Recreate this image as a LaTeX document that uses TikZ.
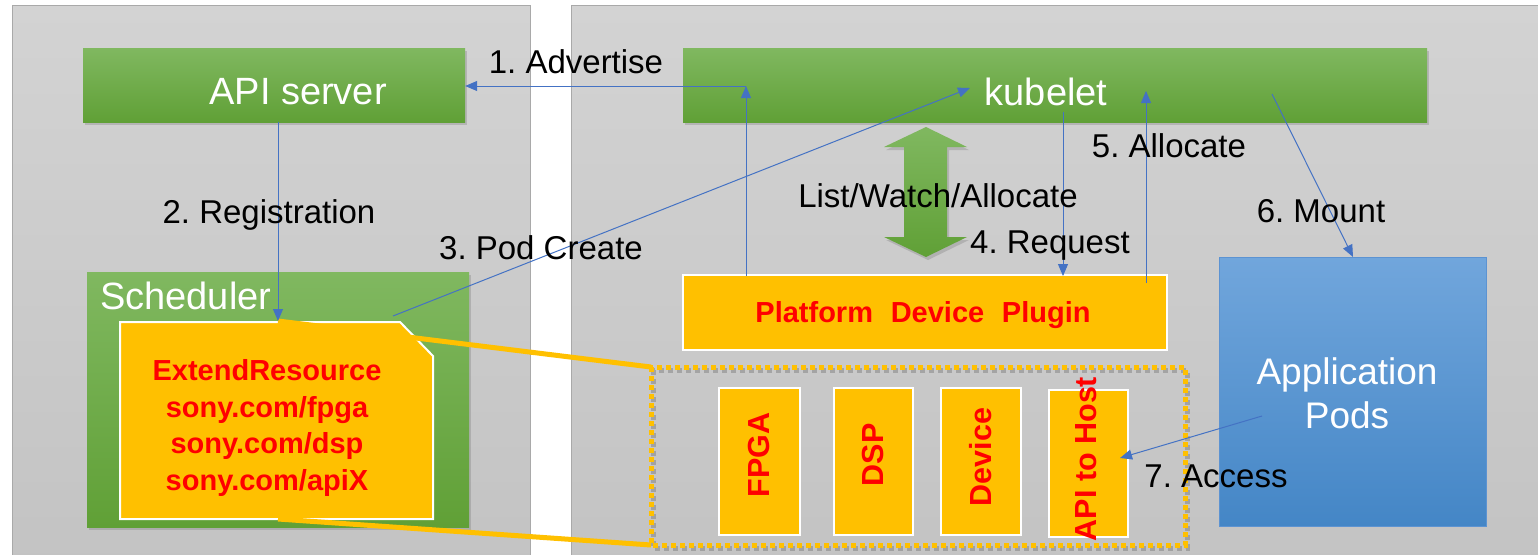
\documentclass[tikz,border=0pt]{standalone}
\usepackage{fontspec}
\setmainfont{Liberation Sans}
\usetikzlibrary{shadows,arrows.meta}
\frenchspacing

\definecolor{panelTop}{HTML}{D3D3D3}
\definecolor{panelBot}{HTML}{C3C3C3}
\definecolor{panelEdge}{HTML}{A9A9A9}
\definecolor{greenTop}{HTML}{80B860}
\definecolor{greenBot}{HTML}{60A036}
\definecolor{amber}{HTML}{FFC000}
\definecolor{linkBlue}{HTML}{4472C4}
\definecolor{podTop}{HTML}{71A6DC}
\definecolor{podBot}{HTML}{4486C6}
\definecolor{podEdge}{HTML}{5C93D2}

\tikzset{
  panel/.style={top color=panelTop, bottom color=panelBot, draw=panelEdge, line width=1pt},
  greenbox/.style={draw=none, top color=greenTop, bottom color=greenBot,
    drop shadow={shadow xshift=2pt, shadow yshift=-3pt, opacity=0.35}, inner sep=0pt},
  amberbox/.style={fill=amber, draw=white, line width=2pt, inner sep=0pt},
  boxtext/.style={text=white, font=\fontsize{38}{44}\selectfont, inner sep=0pt},
  steplabel/.style={text=black, font=\fontsize{33}{38}\selectfont, inner sep=0pt},
  redtext/.style={text=red, font=\bfseries\fontsize{29}{36.5}\selectfont, inner sep=0pt, align=center},
  devtext/.style={redtext, font=\bfseries\fontsize{30.5}{36}\selectfont, rotate=90},
  link/.style={draw=linkBlue, line width=1pt, -{Triangle[length=12pt,width=10pt]}},
  zoomline/.style={draw=amber, line width=5pt},
  dotframe/.style={line width=5pt, dash pattern=on 5pt off 4pt},
}

\begin{document}
\begin{tikzpicture}[x=1pt, y=-1pt]
\useasboundingbox (0,0) rectangle (1538,554);
\clip (0,0) rectangle (1538,554);
\fill[white] (0,0) rectangle (1538,554);

% two grey panels: control plane (left) and node (right)
\path[panel] (12,5) rectangle (530,570);
\path[panel] (571,5) rectangle (1560,570);

% control plane components
\node[greenbox, minimum width=382pt, minimum height=74pt] (api) at (274,85) {};
\node[boxtext] (apiText) at (298,92) {API server};

\node[greenbox, minimum width=382pt, minimum height=255pt] (sched) at (278,399.5) {};
\node[boxtext, anchor=west] (schedText) at (100,296) {Scheduler};

% extended resource card with a snipped corner
\filldraw[fill=amber, draw=white, line width=2pt]
  (120,322) -- (400,322) -- (433,356) -- (433,519) -- (120,519) -- cycle;
\coordinate (cardTop) at (278,321);
\node[redtext] (resList) at (267,428) {ExtendResource\\sony.com/fpga\\sony.com/dsp\\sony.com/apiX};

% node components
\node[greenbox, minimum width=744pt, minimum height=74pt] (kubelet) at (1055,85) {};
\node[boxtext] (kubeletText) at (1046,92) {kubelet};

\node[amberbox, minimum width=484pt, minimum height=75pt] (plugin) at (925,312.5) {};
\node[redtext] (pluginText) at (923,315) {Platform\,\, Device\,\, Plugin};

% list/watch/allocate double arrow
\path[top color=greenTop, bottom color=greenBot,
      drop shadow={shadow xshift=2pt, shadow yshift=-3pt, opacity=0.35}]
  (926,127) -- (967,147) -- (947,147) -- (947,237) -- (967,237) -- (926,257)
  -- (884,237) -- (904,237) -- (904,147) -- (884,147) -- cycle;

% device group (dotted frame with shadow)
\draw[dotframe, black!50, opacity=0.5] (653,370) rectangle (1187,548);
\draw[dotframe, amber] (651,367) rectangle (1185,545);
\coordinate (groupNW) at (651,367);
\coordinate (groupSW) at (651,545);

\node[amberbox, minimum width=81pt, minimum height=147pt] (fpga) at (759.5,461.5) {};
\node[amberbox, minimum width=79pt, minimum height=147pt] (dsp) at (873.5,461.5) {};
\node[amberbox, minimum width=80pt, minimum height=147pt] (device) at (981,461.5) {};
\node[amberbox, minimum width=79pt, minimum height=147pt] (apihost) at (1088.5,463.5) {};
\node[devtext] (fpgaText) at (759,455) {FPGA};
\node[devtext] (dspText) at (873,455) {DSP};
\node[devtext] (deviceText) at (981,457) {Device};
\node[devtext] (apihostText) at (1086,459) {API to Host};

% application pods
\node[draw=podEdge, line width=1pt, top color=podTop, bottom color=podBot,
      minimum width=267pt, minimum height=269pt, inner sep=0pt] (pods) at (1352.5,391.5) {};
\node[boxtext, align=center, font=\fontsize{37}{44}\selectfont] (podsText) at (1347,393) {Application\\Pods};

% callout from the card to the device group
\draw[zoomline] (cardTop) -- (groupNW);
\draw[zoomline] (278,519) -- (groupSW);

% workflow connectors
\coordinate (advTurn) at (746,86);
\coordinate (plugLeft) at (746,276);
\draw[link] (plugLeft) -- (advTurn);
\draw[link] (advTurn) -- (api.east |- advTurn);

\coordinate (apiBottom) at (278,122);
\draw[link] (apiBottom) -- (cardTop);

\coordinate (schedOut) at (393,316);
\coordinate (kubeIn) at (970,88);
\draw[link] (schedOut) -- (kubeIn);

\coordinate (kubeReq) at (1063,112);
\draw[link] (kubeReq) -- (1063,276);

\coordinate (plugAlloc) at (1146,283);
\draw[link] (plugAlloc) -- (1146,91);

\coordinate (kubeMount) at (1272,94);
\draw[link] (kubeMount) -- (1353,257);

\coordinate (podsAccess) at (1262,416);
\draw[link] (podsAccess) -- (1120,458);

% step labels
\node[steplabel] (l1) at (576,62) {1. Advertise};
\node[steplabel] (l2) at (269,215) {2. Registration};
\node[steplabel] (l3) at (541,248) {3. Pod Create};
\node[steplabel] (lw) at (938,196) {List/Watch/Allocate};
\node[steplabel] (l4) at (1050,246) {4. Request};
\node[steplabel] (l5) at (1169,146) {5. Allocate};
\node[steplabel] (l6) at (1321,211) {6. Mount};
\node[steplabel] (l7) at (1216,476) {7. Access};
\end{tikzpicture}
\end{document}
